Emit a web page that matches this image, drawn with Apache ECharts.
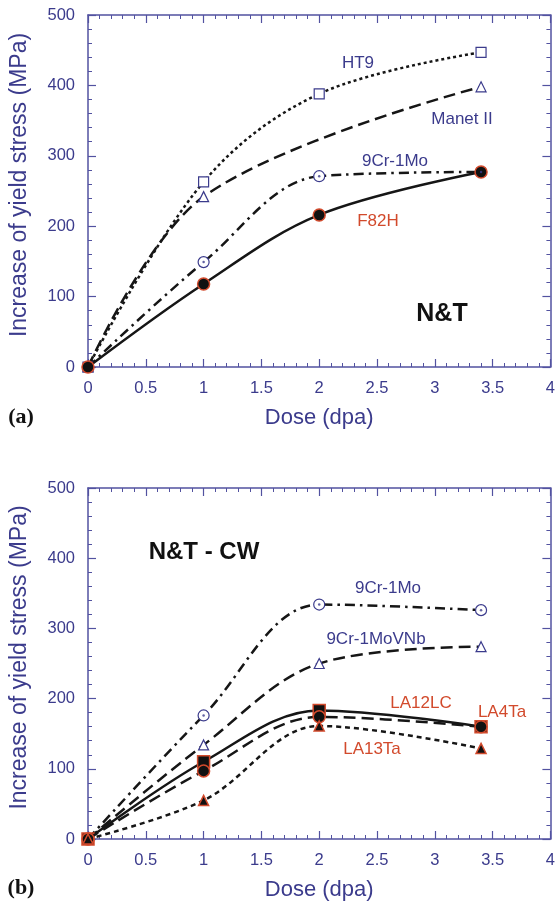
<!DOCTYPE html>
<html><head><meta charset="utf-8">
<script src="https://cdn.jsdelivr.net/npm/echarts@6/dist/echarts.min.js"></script>
<style>html,body{margin:0;padding:0;background:#fff}#c{width:558px;height:905px}</style>
</head><body><div id="c"></div>
<script>
// ---- data ----
const doseTicks = [0, 0.5, 1, 1.5, 2, 2.5, 3, 3.5, 4];
const doses = [0, 1, 2, 3.4];
// (a) N&T
const ht9 = [0, 263, 388, 447];
const manetDoses = [0, 1, 3.4];
const manet = [0, 242, 398];
const cr9a = [0, 149, 271, 277];
const f82h = [0, 118, 216, 277];
// (b) N&T - CW
const cr9b = [0, 176, 334, 326];
const vnb = [0, 134, 250, 274];
const la12lc = [0, 110, 183, 160];
const la4ta = [0, 97, 174, 160];
const la13ta = [0, 55, 161, 129];

const BLUE = '#3b3b8c', AXIS = '#5252a0', RED = '#d24a2c', INK = '#161616';
const pts = (xs, ys) => xs.map((x, i) => [x, ys[i]]);

const grids = [
  {left: 87, top: 15, width: 469, height: 352},
  {left: 87, top: 488, width: 469, height: 351}
];
function xAxes(g) {
  const base = {gridIndex: g, type: 'value', min: 0, max: 4, interval: 0.5,
    axisLine: {onZero: false, lineStyle: {color: AXIS, width: 1.5}}, splitLine: {show: false},
    axisTick: {inside: true, length: 8, lineStyle: {color: AXIS, width: 1.2}},
    minorTick: {show: true, splitNumber: 5, length: 4, lineStyle: {color: AXIS, width: 1}}};
  return [
    Object.assign({}, base, {position: 'bottom', name: 'Dose (dpa)', nameLocation: 'middle', nameGap: 40,
      nameTextStyle: {color: BLUE, fontSize: 22, fontFamily: 'Liberation Sans'},
      axisLabel: {color: BLUE, fontSize: 16.5, margin: 13, fontFamily: 'Liberation Sans'}}),
    Object.assign({}, base, {position: 'top', axisLabel: {show: false}})
  ];
}
function yAxes(g) {
  const base = {gridIndex: g, type: 'value', min: 0, max: 500, interval: 100,
    axisLine: {show: true, onZero: false, lineStyle: {color: AXIS, width: 1.5}}, splitLine: {show: false},
    axisTick: {show: true, inside: true, length: 8, lineStyle: {color: AXIS, width: 1.2}},
    minorTick: {show: true, splitNumber: 5, length: 4, lineStyle: {color: AXIS, width: 1}}};
  return [
    Object.assign({}, base, {position: 'left', name: 'Increase of yield stress (MPa)', nameLocation: 'middle', nameGap: 57,
      nameTextStyle: {color: BLUE, fontSize: 23, fontFamily: 'Liberation Sans', padding: [0, 0, 0, 12]},
      axisLabel: {color: BLUE, fontSize: 16.5, margin: 13, fontFamily: 'Liberation Sans'}}),
    Object.assign({}, base, {position: 'right', axisLabel: {show: false}})
  ];
}

function line(g, data, dash, symbol, filled, size, z) {
  return {type: 'line', xAxisIndex: g * 2, yAxisIndex: g * 2, data: data, smooth: 0.35, clip: false,
    symbol: symbol, symbolSize: size, showSymbol: true, z: z || 2,
    lineStyle: {color: INK, width: 2.5, type: dash},
    itemStyle: filled ? {color: '#111', borderColor: RED, borderWidth: 1.5}
                      : {color: '#fff', borderColor: BLUE, borderWidth: 1.2},
    emphasis: {disabled: true}, animation: false};
}
function dots(g, data) {
  return {type: 'scatter', xAxisIndex: g * 2, yAxisIndex: g * 2, data: data, symbol: 'circle', symbolSize: 2.5,
    itemStyle: {color: BLUE}, z: 5, clip: false, animation: false};
}

const DOT = [3, 3], LONG = [12, 6], DASHDOT = [10, 5, 2.5, 5], SHORT = [5, 4];

const series = [
  line(0, pts(doses, ht9), DOT, 'rect', false, 10),
  line(0, pts(manetDoses, manet), LONG, 'triangle', false, 10),
  line(0, pts(doses, cr9a), DASHDOT, 'circle', false, 11),
  dots(0, pts(doses, cr9a).slice(1)),
  line(0, pts(doses, f82h), 'solid', 'circle', true, 12, 4),

  line(1, pts(doses, cr9b), DASHDOT, 'circle', false, 11),
  dots(1, pts(doses, cr9b).slice(1)),
  line(1, pts(doses, vnb), LONG, 'triangle', false, 10),
  line(1, pts(doses, la12lc), 'solid', 'rect', true, 12, 3),
  line(1, pts(doses, la4ta), LONG, 'circle', true, 12, 4),
  line(1, pts(doses, la13ta), SHORT, 'triangle', true, 10, 5)
];

function txt(x, y, s, color, size, weight, family) {
  return {type: 'text', x: x, y: y, z: 100, style: {text: s, fill: color, fontSize: size,
    fontWeight: weight || 'normal', fontFamily: family || 'Liberation Sans', align: 'center', verticalAlign: 'middle'}};
}

const option = {
  backgroundColor: '#fff',
  animation: false,
  grid: grids,
  xAxis: xAxes(0).concat(xAxes(1)),
  yAxis: yAxes(0).concat(yAxes(1)),
  series: series,
  graphic: [
    txt(358, 63, 'HT9', BLUE, 17),
    txt(462, 119, 'Manet II', BLUE, 17),
    txt(395, 161, '9Cr-1Mo', BLUE, 17),
    txt(378, 221, 'F82H', RED, 17),
    txt(442, 314, 'N&T', '#111', 25, 'bold'),
    txt(21, 417, '(a)', '#111', 22, 'bold', 'Liberation Serif'),
    txt(204, 552, 'N&T - CW', '#111', 24, 'bold'),
    txt(388, 588, '9Cr-1Mo', BLUE, 17),
    txt(376, 639, '9Cr-1MoVNb', BLUE, 17),
    txt(421, 703, 'LA12LC', RED, 17),
    txt(502, 712, 'LA4Ta', RED, 17),
    txt(372, 749, 'LA13Ta', RED, 17),
    txt(21, 888, '(b)', '#111', 22, 'bold', 'Liberation Serif')
  ]
};
const chart = echarts.init(document.getElementById('c'), null, {renderer: 'canvas'});
chart.setOption(option);
</script></body></html>
